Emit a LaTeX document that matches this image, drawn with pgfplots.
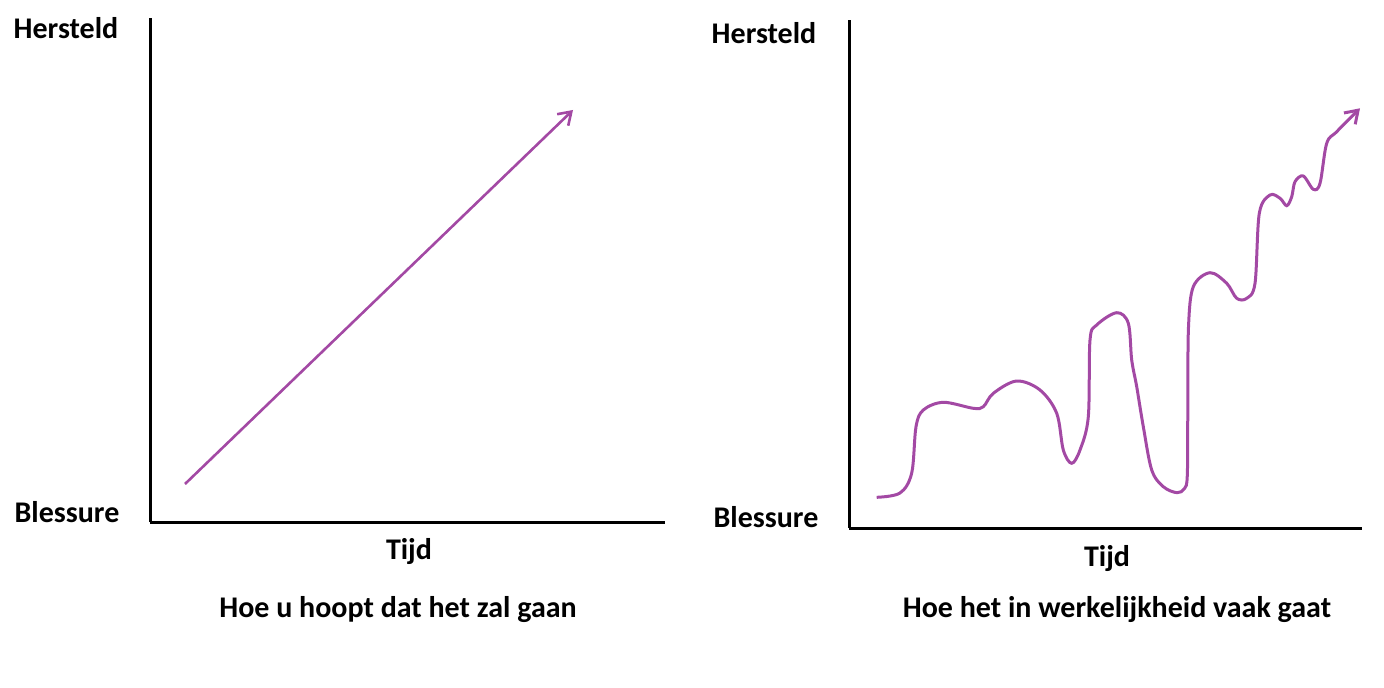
\documentclass[border=0pt]{standalone}
\usepackage{pgfplots}
\pgfplotsset{compat=1.18}
\usetikzlibrary{arrows.meta}
\usepackage{fontspec}
\setmainfont{Carlito}
\definecolor{curve}{HTML}{A349A4}
\pgfplotsset{
  sketch/.style={
    scale only axis, anchor=south west,
    axis lines=left, axis line style={-, line width=1.5pt, black},
    xtick=\empty, ytick=\empty, clip=false,
  }
}
\begin{document}
\begin{tikzpicture}[x=0.5pt,y=0.5pt]
\useasboundingbox (0,0) rectangle (1384,687);
% left panel
\begin{axis}[sketch, at={(150,165)}, width=257.5pt, height=252pt,
  xmin=150, xmax=665, ymin=165, ymax=669]
\addplot[curve, line width=1.3pt, -{Straight Barb[length=6pt,width=8pt]}] coordinates {(185,203) (573,577)};
\end{axis}
% right panel
\begin{axis}[sketch, at={(849,159)}, width=256.5pt, height=254pt,
  xmin=849, xmax=1362, ymin=159, ymax=667]
\addplot[curve, line width=1.5pt, smooth, tension=0.55, -{Straight Barb[length=6pt,width=8pt]}] coordinates {
(876.7,189.7) (900,194) (911.7,214) (916,260.3) (923.3,277) (943.3,284.7)
(973.3,278.7) (983.3,280.3) (993.3,293.7) (1016.7,306) (1040,297) (1056.7,273.7)
(1063.3,237) (1071.7,223.7) (1080,237) (1088.3,270.3) (1090,347) (1096.7,362)
(1116.7,374.3) (1128.3,363.7) (1131.7,327) (1136.7,300.3) (1143.3,260.3)
(1151.7,217) (1163.3,200.3) (1177,194.3) (1184.5,198.5) (1187.3,212) (1187.8,280) (1188.5,360.3)
(1193.3,400.3) (1210,414.3) (1226.7,403.7) (1236.7,388.7) (1246.7,388.7)
(1255,403.7) (1259.3,473.7) (1270,492) (1280,488.7) (1286.7,481.3)
(1291.7,490.3) (1295,505.3) (1303.3,511) (1313.3,497.7) (1320,503.7)
(1326.7,543.7) (1336.7,555.3) (1360,578.7)};
\end{axis}
\begin{scope}[every node/.style={font=\fontsize{15}{17}\selectfont\bfseries, inner sep=0pt}]
\node at (66,659) {Hersteld};
\node at (67,175) {Blessure};
\node at (409,135) {Tijd};
\node at (398,77) {Hoe u hoopt dat het zal gaan};
\node at (764,654) {Hersteld};
\node at (766,170) {Blessure};
\node at (1107,129) {Tijd};
\node at (1117,77) {Hoe het in werkelijkheid vaak gaat};
\end{scope}
\end{tikzpicture}
\end{document}
